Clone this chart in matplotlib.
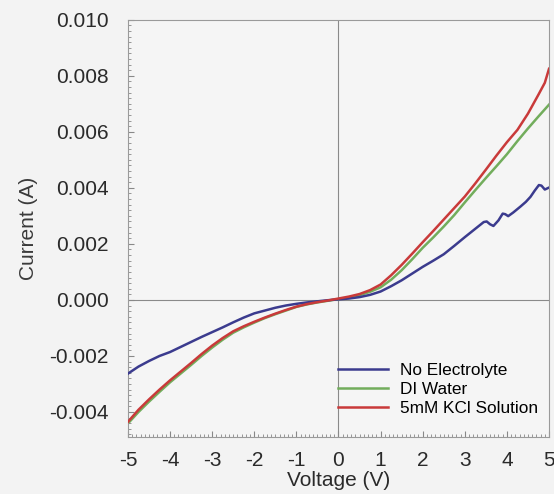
import numpy as np
import matplotlib.pyplot as plt
from matplotlib.ticker import MultipleLocator, FormatStrFormatter

# readings
v_kcl = [-5.0, -4.75, -4.5, -4.25, -4.0, -3.75, -3.5, -3.25, -3.0, -2.75, -2.5, -2.25,
         -2.0, -1.75, -1.5, -1.25, -1.0, -0.75, -0.5, -0.25, 0.0, 0.25, 0.5, 0.75, 1.0,
         1.25, 1.5, 1.75, 2.0, 2.25, 2.5, 2.75, 3.0, 3.25, 3.5, 3.75, 4.0, 4.25, 4.5,
         4.75, 4.9, 5.0]
i_kcl = [-0.00435, -0.00392, -0.00355, -0.00320, -0.00287, -0.00256, -0.00225, -0.00193,
         -0.00163, -0.00136, -0.00112, -0.00094, -0.00078, -0.00063, -0.00049, -0.00036,
         -0.00024, -0.00015, -0.00008, -0.00002, 0.00005, 0.00012, 0.00021, 0.00035,
         0.00055, 0.00088, 0.00125, 0.00165, 0.00206, 0.00246, 0.00287, 0.00328, 0.00369,
         0.00416, 0.00465, 0.00515, 0.00563, 0.00607, 0.00665, 0.00733, 0.00775, 0.00825]

v_di = [-5.0, -4.75, -4.5, -4.25, -4.0, -3.75, -3.5, -3.25, -3.0, -2.75, -2.5, -2.25,
        -2.0, -1.75, -1.5, -1.25, -1.0, -0.75, -0.5, -0.25, 0.0, 0.25, 0.5, 0.75, 1.0,
        1.25, 1.5, 1.75, 2.0, 2.25, 2.5, 2.75, 3.0, 3.25, 3.5, 3.75, 4.0, 4.25, 4.5,
        4.75, 5.0]
i_di = [-0.00441, -0.00400, -0.00363, -0.00328, -0.00294, -0.00263, -0.00232, -0.00200,
        -0.00170, -0.00142, -0.00117, -0.00098, -0.00081, -0.00065, -0.00051, -0.00038,
        -0.00025, -0.00016, -0.00009, -0.00003, 0.00003, 0.00008, 0.00017, 0.00029,
        0.00045, 0.00072, 0.00106, 0.00145, 0.00186, 0.00223, 0.00262, 0.00303, 0.00348,
        0.00392, 0.00435, 0.00477, 0.00520, 0.00567, 0.00612, 0.00655, 0.00697]

v_none = [-5.0, -4.75, -4.5, -4.25, -4.0, -3.75, -3.5, -3.25, -3.0, -2.75, -2.5, -2.25,
          -2.0, -1.75, -1.5, -1.25, -1.0, -0.75, -0.5, -0.25, 0.0, 0.25, 0.5, 0.75, 1.0,
          1.25, 1.5, 1.75, 2.0, 2.25, 2.5, 2.75, 3.0, 3.15, 3.3, 3.45, 3.52, 3.6, 3.68,
          3.8, 3.9, 3.96, 4.03, 4.15, 4.32, 4.45, 4.56, 4.66, 4.76, 4.82, 4.9, 5.0]
i_none = [-0.00263, -0.00238, -0.00218, -0.00200, -0.00186, -0.00168, -0.00150, -0.00132,
          -0.00115, -0.00098, -0.00080, -0.00063, -0.00048, -0.00038, -0.00028, -0.00020,
          -0.00014, -0.00009, -0.00005, -0.00001, 0.00002, 0.00005, 0.00010, 0.00018,
          0.00030, 0.00049, 0.00070, 0.00094, 0.00118, 0.00140, 0.00163, 0.00193, 0.00224,
          0.00242, 0.00260, 0.00278, 0.00280, 0.00270, 0.00264, 0.00284, 0.00308, 0.00306,
          0.00299, 0.00312, 0.00333, 0.00350, 0.00368, 0.00390, 0.00410, 0.00408, 0.00394,
          0.00401]

plt.rcParams['font.family'] = ['Liberation Sans', 'DejaVu Sans']
plt.rcParams['axes.unicode_minus'] = False

fig = plt.figure(figsize=(5.54, 4.94), dpi=100, facecolor='#f3f3f3')
ax = fig.add_axes([0.231, 0.115, 0.76, 0.845], facecolor='#f5f5f5')

ax.axhline(0, color='#8a8a8a', lw=0.8, zorder=1)
ax.axvline(0, color='#8a8a8a', lw=0.8, zorder=1)

ax.plot(v_none, i_none, color='#3b3b8e', lw=1.8, label='No Electrolyte', zorder=3)
ax.plot(v_di, i_di, color='#72ad5c', lw=1.8, label='DI Water', zorder=2)
ax.plot(v_kcl, i_kcl, color='#c93a3a', lw=1.8, label='5mM KCl Solution', zorder=3)

ax.set_xlim(-5, 5)
ax.set_ylim(-0.0049, 0.010)
ax.xaxis.set_major_locator(MultipleLocator(1))
ax.xaxis.set_minor_locator(MultipleLocator(0.1))
ax.yaxis.set_major_locator(MultipleLocator(0.002))
ax.yaxis.set_minor_locator(MultipleLocator(0.0002))
ax.yaxis.set_major_formatter(FormatStrFormatter('%.3f'))
ax.xaxis.set_major_formatter(FormatStrFormatter('%d'))

ax.tick_params(which='both', direction='in', color='#888888', top=False, right=False,
               labelsize=15, labelcolor='#2a2a2a')
ax.tick_params(axis='x', pad=10)
ax.tick_params(axis='y', pad=14)
ax.tick_params(which='major', length=4, width=0.8)
ax.tick_params(which='minor', length=2, width=0.6)
for s in ax.spines.values():
    s.set_color('#9a9a9a')
    s.set_linewidth(0.8)

ax.set_xlabel('Voltage (V)', fontsize=15, color='#2a2a2a', labelpad=1)
ax.set_ylabel('Current (A)', fontsize=15, color='#3a3a3a', labelpad=8)

ax.legend(loc='lower right', bbox_to_anchor=(0.99, 0.035), frameon=False, fontsize=12.4,
          handlelength=2.9, handletextpad=0.7, labelspacing=0.22, borderaxespad=0)

fig.savefig('out.png', dpi=100, facecolor=fig.get_facecolor())
